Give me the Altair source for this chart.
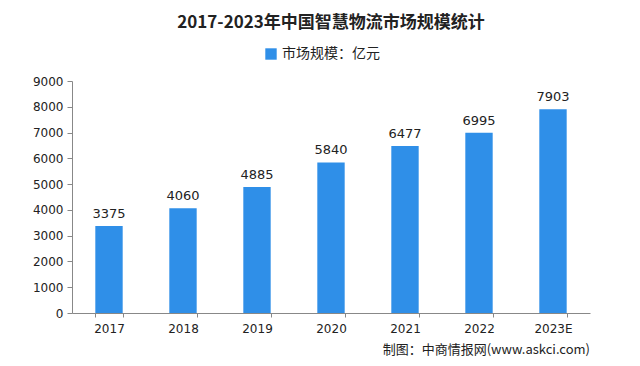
import altair as alt
import pandas as pd

years = ["2017", "2018", "2019", "2020", "2021", "2022", "2023E"]
values = [3375, 4060, 4885, 5840, 6477, 6995, 7903]
series_name = "市场规模：亿元"
title_text = "2017-2023年中国智慧物流市场规模统计"
source_text = "制图：中商情报网(www.askci.com)"
y_ticks = [0, 1000, 2000, 3000, 4000, 5000, 6000, 7000, 8000, 9000]

df = pd.DataFrame({"year": years, "value": values, "series": series_name})
src_df = pd.DataFrame({"t": [source_text]})

font = "Noto Sans CJK SC"
blue = "#2f8fe8"

base = alt.Chart(df)

x_enc = alt.X("year:N", sort=years, title=None,
              scale=alt.Scale(paddingInner=0.63, paddingOuter=0.315),
              axis=alt.Axis(labelAngle=0, tickBand="extent", domainColor="#888",
                            tickColor="#888", labelFontSize=12, labelColor="#222",
                            labelFont="DejaVu Sans", labelPadding=6, tickSize=4))

y_enc = alt.Y("value:Q", title=None,
              scale=alt.Scale(domain=[0, 9000], nice=False),
              axis=alt.Axis(values=y_ticks, format="d", grid=False, labelOverlap=False,
                            domainColor="#888", tickColor="#888", tickSize=5,
                            labelFontSize=12, labelColor="#222", labelFont="DejaVu Sans",
                            labelPadding=4))

bars = base.mark_bar(color=blue).encode(
    x=x_enc,
    y=y_enc,
    fill=alt.Fill("series:N", scale=alt.Scale(range=[blue]),
                  legend=alt.Legend(title=None, orient="none", legendX=192, legendY=-34,
                                    symbolType="square", symbolSize=130,
                                    labelFont=font, labelFontSize=14, labelColor="#222")),
)

labels = base.mark_text(dy=-12, fontSize=13, font="DejaVu Sans", color="#222").encode(
    x=x_enc,
    y=y_enc,
    text="value:Q",
)

source = alt.Chart(src_df).mark_text(font=font, fontSize=13, color="#222",
                                     align="right").encode(
    x=alt.value(518), y=alt.value(269), text="t:N"
)

chart = alt.layer(bars, labels, source).properties(
    width=518, height=232,
    title=alt.TitleParams(title_text, font=font, fontSize=17, fontWeight="bold",
                          color="#222", anchor="middle", offset=15),
    autosize=alt.AutoSizeParams(type="none"),
    padding={"left": 64, "top": 73, "right": 42, "bottom": 45},
).configure(background="white").configure_view(stroke=None)

chart.save("out.html", embed_options={"renderer": "svg", "actions": False})
